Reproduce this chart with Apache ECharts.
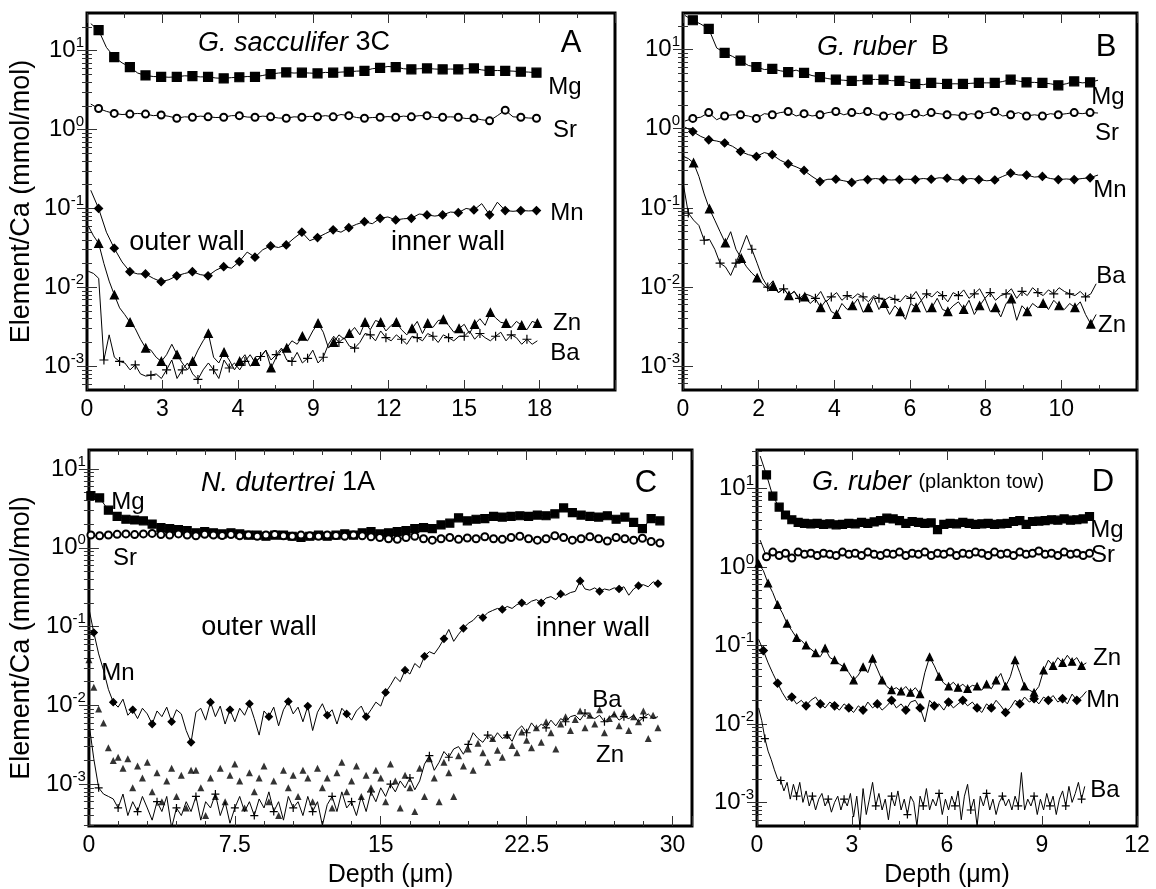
<!DOCTYPE html>
<html>
<head>
<meta charset="utf-8">
<script src="https://cdn.jsdelivr.net/npm/echarts@6/dist/echarts.min.js"></script>
<style>
  html, body { margin: 0; padding: 0; background: #fff; }
  #chart { width: 1156px; height: 889px; }
</style>
</head>
<body>
<div id="chart"></div>
<script>
var FONT = '"Liberation Sans", Arial, Helvetica, sans-serif';

// ---- panel A: G. sacculifer 3C ----
// Mg, Sr, Mn sampled from 0.15 um every 0.311 um; Zn, Ba from 0.05 um every 0.2077 um
var depthA1 = [0.15, 0.311];
var depthA2 = [0.05, 0.2077];
var mgA = [22, 18.2, 11, 8.3, 7, 6.2, 5.2, 4.85, 4.7, 4.66, 4.6, 4.66, 4.8, 4.75, 4.65, 4.66, 4.5, 4.45, 4.55, 4.6,
  4.7, 4.66, 4.85, 5.05, 5.2, 5.3, 5.2, 5.25, 5.2, 5.15, 5.3, 5.25, 5.35, 5.4, 5.5, 5.55, 5.9, 6.05, 6.3, 6.2,
  5.9, 5.8, 5.9, 5.95, 5.85, 5.8, 5.85, 5.8, 5.9, 5.95, 5.7, 5.55, 5.6, 5.55, 5.5, 5.4, 5.35, 5.25];
var srA = [2.1, 1.85, 1.7, 1.6, 1.55, 1.57, 1.6, 1.57, 1.5, 1.53, 1.47, 1.39, 1.45, 1.43, 1.48, 1.45, 1.42, 1.43, 1.5, 1.5,
  1.44, 1.43, 1.48, 1.45, 1.4, 1.39, 1.45, 1.43, 1.47, 1.45, 1.5, 1.45, 1.55, 1.5, 1.42, 1.39, 1.42, 1.43, 1.46, 1.43,
  1.48, 1.45, 1.5, 1.5, 1.42, 1.43, 1.45, 1.43, 1.38, 1.39, 1.33, 1.29, 1.5, 1.76, 1.45, 1.43, 1.4, 1.39];
var mnA = [0.17, 0.1, 0.05, 0.0313, 0.021, 0.0158, 0.0148, 0.0148, 0.013, 0.0118, 0.0125, 0.014, 0.015, 0.0158, 0.0145,
  0.014, 0.0165, 0.0183, 0.0175, 0.0212, 0.028, 0.0241, 0.03, 0.0335, 0.032, 0.0345, 0.042, 0.05, 0.039, 0.0427,
  0.048, 0.0536, 0.05, 0.057, 0.063, 0.068, 0.064, 0.075, 0.078, 0.0715, 0.074, 0.075, 0.085, 0.0828, 0.08, 0.0828,
  0.09, 0.0885, 0.1, 0.0958, 0.115, 0.083, 0.12, 0.094, 0.092, 0.094, 0.093, 0.094];
var znA = [0.06, 0.045, 0.036, 0.02, 0.012, 0.008, 0.0055, 0.0045, 0.0036, 0.003, 0.0022, 0.0017, 0.0016, 0.0013,
  0.00115, 0.0014, 0.0019, 0.0014, 0.0011, 0.0009, 0.00115, 0.0016, 0.0021, 0.0026, 0.0013, 0.0011, 0.0015, 0.0012,
  0.0009, 0.00115, 0.0014, 0.001, 0.00115, 0.0013, 0.0016, 0.00095, 0.0013, 0.0016, 0.0017, 0.0021, 0.0019, 0.0024,
  0.0021, 0.0028, 0.0035, 0.0027, 0.0017, 0.002, 0.0025, 0.0022, 0.0026, 0.0031, 0.0025, 0.0036, 0.0029, 0.0038,
  0.0036, 0.0028, 0.0033, 0.0036, 0.0029, 0.0025, 0.003, 0.0037, 0.0026, 0.0035, 0.0031, 0.0038, 0.0039, 0.0033,
  0.0027, 0.003, 0.0034, 0.0026, 0.0034, 0.004, 0.0033, 0.0048, 0.0041, 0.0036, 0.0035, 0.0031, 0.0037, 0.0033,
  0.0029, 0.0037, 0.0035];
var baA = [0.016, 0.015, 0.013, 0.0012, 0.0025, 0.0013, 0.00115, 0.0011, 0.0009, 0.00104, 0.0008, 0.00075, 0.00077,
  0.0008, 0.0007, 0.0009, 0.0012, 0.0007, 0.0009, 0.0011, 0.0008, 0.00068, 0.0009, 0.0011, 0.0009, 0.0007, 0.0012,
  0.00095, 0.0011, 0.0009, 0.00115, 0.0014, 0.0011, 0.00133, 0.0016, 0.0012, 0.0014, 0.0017, 0.0012, 0.00115, 0.0015,
  0.0011, 0.00126, 0.0016, 0.0011, 0.0013, 0.0019, 0.0024, 0.002, 0.0023, 0.0018, 0.0017, 0.002, 0.0026, 0.0025,
  0.0021, 0.0028, 0.0023, 0.0021, 0.0025, 0.0022, 0.0019, 0.0024, 0.0023, 0.0021, 0.0026, 0.0024, 0.002, 0.0025,
  0.0023, 0.0021, 0.0024, 0.0024, 0.0028, 0.0022, 0.0026, 0.0023, 0.0021, 0.0024, 0.0027, 0.0021, 0.0025, 0.0023,
  0.0019, 0.0022, 0.0019, 0.0021];
var xLabelsA = ['0', '3', '4', '9', '12', '15', '18', ''];

// ---- panel B: G. ruber B ----
var depthB1 = [0.05, 0.21];
var depthB2 = [0, 0.14];
var mgB = [27, 23.5, 21, 18.3, 10.5, 9.1, 8.2, 7.25, 6.3, 6.03, 5.6, 5.7, 5.4, 5.2, 5.5, 5.07, 4.7, 4.5, 4.3, 4.17,
  4.1, 4.02, 4.05, 4.17, 4.2, 4.17, 4.05, 4.02, 3.9, 3.68, 3.6, 3.79, 3.75, 3.68, 3.7, 3.68, 3.75, 3.79, 3.8, 3.79,
  3.95, 4.17, 4.0, 3.86, 3.85, 3.79, 3.7, 3.54, 3.7, 3.97, 3.8, 3.86, 4.1];
var srB = [1.25, 1.35, 1.4, 1.6, 1.3, 1.45, 1.5, 1.5, 1.45, 1.35, 1.55, 1.5, 1.6, 1.65, 1.45, 1.55, 1.45, 1.5, 1.6, 1.65,
  1.5, 1.6, 1.55, 1.65, 1.5, 1.45, 1.55, 1.45, 1.5, 1.55, 1.45, 1.6, 1.55, 1.5, 1.5, 1.45, 1.55, 1.5, 1.6, 1.65,
  1.45, 1.5, 1.6, 1.45, 1.5, 1.45, 1.55, 1.5, 1.55, 1.6, 1.55, 1.6, 1.58];
var mnB = [1.05, 0.92, 0.8, 0.725, 0.7, 0.66, 0.6, 0.516, 0.47, 0.446, 0.5, 0.47, 0.4, 0.36, 0.33, 0.297, 0.25, 0.215,
  0.23, 0.23, 0.22, 0.21, 0.225, 0.228, 0.235, 0.228, 0.225, 0.228, 0.23, 0.228, 0.235, 0.23, 0.24, 0.237, 0.225,
  0.228, 0.235, 0.228, 0.22, 0.225, 0.25, 0.275, 0.26, 0.26, 0.245, 0.25, 0.235, 0.228, 0.232, 0.228, 0.235, 0.24, 0.26];
var znB = [0.45, 0.42, 0.37, 0.25, 0.15, 0.097, 0.07, 0.05, 0.036, 0.05, 0.03, 0.023, 0.018, 0.015, 0.013, 0.011,
  0.0095, 0.0102, 0.0085, 0.0095, 0.0078, 0.0088, 0.0068, 0.0075, 0.0062, 0.0071, 0.0055, 0.0068, 0.0049, 0.0045,
  0.0062, 0.0052, 0.0058, 0.0071, 0.0048, 0.0055, 0.0075, 0.0052, 0.0062, 0.0045, 0.0058, 0.0049, 0.0039, 0.0062,
  0.0055, 0.0068, 0.0048, 0.0055, 0.0072, 0.0052, 0.0049, 0.0058, 0.0065, 0.0052, 0.0068, 0.0045, 0.0058, 0.0072,
  0.0049, 0.0055, 0.0042, 0.0062, 0.0071, 0.0038, 0.0058, 0.0049, 0.0062, 0.0055, 0.0062, 0.0052, 0.0068, 0.0058,
  0.0052, 0.0062, 0.0055, 0.0065, 0.0045, 0.0034, 0.0045];
var baB = [0.21, 0.086, 0.07, 0.06, 0.039, 0.04, 0.03, 0.02, 0.018, 0.014, 0.02, 0.03, 0.045, 0.03, 0.02, 0.013,
  0.01, 0.012, 0.0085, 0.0095, 0.0078, 0.0088, 0.0072, 0.0082, 0.0078, 0.0072, 0.0088, 0.0065, 0.0075, 0.0085,
  0.0068, 0.0078, 0.0072, 0.0082, 0.0075, 0.0065, 0.0078, 0.0072, 0.0068, 0.0075, 0.007, 0.0065, 0.0078, 0.0072,
  0.0088, 0.0068, 0.0082, 0.0075, 0.0088, 0.0078, 0.0065, 0.0085, 0.0078, 0.0092, 0.0072, 0.0082, 0.0095, 0.0072,
  0.0085, 0.0068, 0.0078, 0.0082, 0.0095, 0.0072, 0.0088, 0.0078, 0.0098, 0.0085, 0.0078, 0.0092, 0.0082, 0.0098,
  0.0088, 0.0082, 0.0078, 0.0088, 0.0075, 0.0082, 0.011];

// ---- panel C: N. dutertrei 1A ----
var depthC1 = [0.1, 0.45];
var depthC2 = [0, 0.25];
var mgC = [4.6, 4.3, 3.0, 2.5, 2.3, 2.25, 2.2, 2.0, 1.8, 1.75, 1.7, 1.65, 1.55, 1.6, 1.55, 1.5, 1.55, 1.5, 1.45, 1.45,
  1.4, 1.45, 1.45, 1.4, 1.35, 1.4, 1.45, 1.4, 1.45, 1.5, 1.45, 1.55, 1.6, 1.5, 1.55, 1.6, 1.65, 1.75, 1.8, 1.75,
  1.95, 2.05, 2.4, 2.2, 2.3, 2.35, 2.5, 2.45, 2.5, 2.55, 2.5, 2.6, 2.55, 2.7, 3.2, 2.8, 2.6, 2.5, 2.45, 2.55,
  2.3, 2.45, 2.1, 1.75, 2.35, 2.2];
var srC = [1.45, 1.42, 1.45, 1.48, 1.5, 1.47, 1.5, 1.52, 1.47, 1.45, 1.5, 1.45, 1.42, 1.48, 1.45, 1.43, 1.47, 1.42,
  1.45, 1.4, 1.45, 1.47, 1.42, 1.4, 1.45, 1.42, 1.4, 1.45, 1.43, 1.4, 1.45, 1.42, 1.38, 1.35, 1.3, 1.28, 1.35, 1.4,
  1.3, 1.25, 1.3, 1.35, 1.28, 1.33, 1.3, 1.38, 1.3, 1.28, 1.35, 1.4, 1.3, 1.25, 1.3, 1.42, 1.35, 1.25, 1.3, 1.38,
  1.3, 1.22, 1.35, 1.3, 1.25, 1.32, 1.2, 1.15];
var mnC = [0.17, 0.084, 0.045, 0.028, 0.016, 0.011, 0.0095, 0.012, 0.0075, 0.0088, 0.0068, 0.0092, 0.0078, 0.0058,
  0.0085, 0.0072, 0.0095, 0.0062, 0.0088, 0.0078, 0.0048, 0.0034, 0.0082, 0.0092, 0.0065, 0.011, 0.0072, 0.0098,
  0.0058, 0.0088, 0.0062, 0.0092, 0.0075, 0.0105, 0.0068, 0.0042, 0.0085, 0.0072, 0.0095, 0.0055, 0.0088, 0.0112,
  0.0078, 0.0095, 0.0062, 0.0098, 0.0048, 0.0082, 0.0105, 0.0075, 0.0088, 0.0058, 0.0092, 0.0078, 0.0065, 0.0085,
  0.0098, 0.0072, 0.0088, 0.011, 0.0098, 0.0146, 0.018, 0.023, 0.02, 0.028, 0.025, 0.034, 0.03, 0.042, 0.048, 0.045,
  0.055, 0.07, 0.092, 0.065, 0.08, 0.095, 0.11, 0.12, 0.14, 0.13, 0.15, 0.16, 0.17, 0.165, 0.18, 0.17, 0.19, 0.2,
  0.19, 0.21, 0.22, 0.2, 0.23, 0.24, 0.22, 0.26, 0.25, 0.27, 0.28, 0.38, 0.3, 0.29, 0.31, 0.28, 0.3, 0.29, 0.31, 0.3,
  0.32, 0.25, 0.3, 0.33, 0.34, 0.32, 0.37, 0.35];
var baC = [0.006, 0.0021, 0.0009, 0.00075, 0.0007, 0.00065, 0.0005, 0.00075, 0.0004, 0.0006, 0.00045, 0.0007, 0.0005,
  0.00035, 0.0006, 0.00045, 0.0007, 0.00028, 0.0005, 0.0004, 0.0006, 0.00045, 0.0007, 0.00035, 0.0006, 0.0005,
  0.00075, 0.0004, 0.0006, 0.00032, 0.0005, 0.0007, 0.00045, 0.0006, 0.0004, 0.00065, 0.0005, 0.0008, 0.00045, 0.0006,
  0.00035, 0.0007, 0.0005, 0.0006, 0.0004, 0.0007, 0.00045, 0.0006, 0.0003, 0.00055, 0.0007, 0.00045, 0.0008, 0.0005,
  0.0006, 0.0004, 0.0007, 0.00045, 0.0008, 0.0006, 0.0009, 0.0007, 0.001, 0.0008, 0.0011, 0.0009, 0.0012, 0.00085,
  0.0011, 0.0018, 0.0023, 0.0015, 0.0019, 0.0026, 0.0022, 0.0028, 0.003, 0.0024, 0.0032, 0.0045, 0.0038, 0.0034,
  0.0042, 0.0036, 0.0045, 0.0038, 0.0042, 0.0035, 0.0048, 0.0055, 0.0045, 0.006, 0.005, 0.0058, 0.0052, 0.0065,
  0.0055, 0.0068, 0.0062, 0.0072, 0.0075, 0.0065, 0.008, 0.0072, 0.0068, 0.0075, 0.0062, 0.007, 0.0078, 0.0065,
  0.0072, 0.0068, 0.0075, 0.0062, 0.007, 0.0078, 0.0068, 0.0072];
var znC = [0.038, 0.017, 0.009, 0.006, 0.0029, 0.002, 0.0022, 0.0016, 0.0021, 0.0009, 0.0017, 0.0012, 0.0019, 0.0008,
  0.0014, 0.0006, 0.0011, 0.0016, 0.0007, 0.0013, 0.0005, 0.0015, 0.0015, 0.0009, 0.0004, 0.0012, 0.0007, 0.0016,
  0.0006, 0.0013, 0.0018, 0.0011, 0.0005, 0.0014, 0.0008, 0.0012, 0.0017, 0.0006, 0.0011, 0.0004, 0.0015, 0.0009,
  0.0013, 0.0007, 0.0015, 0.0012, 0.0006, 0.0016, 0.0009, 0.0012, 0.0005, 0.0014, 0.0019, 0.0008, 0.0011, 0.0017,
  0.0007, 0.0013, 0.0009, 0.0015, 0.0012, 0.0006, 0.0018, 0.0011, 0.0005, 0.0013, 0.0009, 0.00045, 0.0016, 0.0007,
  0.0021, 0.0012, 0.0006, 0.0019, 0.0014, 0.0007, 0.0023, 0.0017, 0.0028, 0.0015, 0.0033, 0.0025, 0.0019, 0.0038,
  0.0027, 0.0022, 0.0042, 0.0031, 0.0025, 0.0046, 0.0036, 0.0029, 0.0052, 0.0034, 0.0062, 0.0045, 0.0028, 0.0058,
  0.0072, 0.0048, 0.0066, 0.0085, 0.0052, 0.0075, 0.0058, 0.0088, 0.0045, 0.0068, 0.0078, 0.0055, 0.0082, 0.0048,
  0.0072, 0.0062, 0.0085, 0.0038, 0.0075, 0.0052];

// ---- panel D: G. ruber (plankton tow) ----
var depthD1 = [0.1, 0.2];
var depthD2 = [0.05, 0.15];
var depthD3 = [0.05, 0.1];
var mgD = [26, 14.9, 8, 5.8, 4.6, 4.0, 3.7, 3.6, 3.55, 3.6, 3.5, 3.55, 3.45, 3.5, 3.6, 3.55, 3.7, 3.6, 3.75, 3.9,
  4.2, 4.1, 3.9, 3.6, 3.8, 3.7, 3.6, 3.65, 3.0, 3.5, 3.6, 3.55, 3.7, 3.6, 3.5, 3.55, 3.6, 3.5, 3.55, 3.6,
  3.8, 3.9, 3.5, 3.8, 3.85, 3.9, 4.0, 3.95, 4.1, 3.95, 4.0, 4.1, 4.4];
var srD = [2.2, 1.35, 1.55, 1.4, 1.5, 1.3, 1.55, 1.45, 1.5, 1.4, 1.5, 1.45, 1.4, 1.55, 1.45, 1.5, 1.4, 1.55, 1.45, 1.4,
  1.5, 1.45, 1.55, 1.4, 1.5, 1.45, 1.55, 1.4, 1.5, 1.45, 1.55, 1.4, 1.5, 1.45, 1.55, 1.5, 1.4, 1.55, 1.45, 1.5,
  1.4, 1.55, 1.45, 1.5, 1.6, 1.45, 1.5, 1.4, 1.55, 1.45, 1.5, 1.4, 1.5];
var znD = [1.1, 0.9, 0.62, 0.47, 0.33, 0.26, 0.19, 0.155, 0.125, 0.116, 0.1, 0.09, 0.08, 0.072, 0.092, 0.07, 0.065,
  0.058, 0.053, 0.045, 0.036, 0.042, 0.053, 0.045, 0.068, 0.05, 0.036, 0.03, 0.027, 0.029, 0.026, 0.03, 0.025, 0.029,
  0.024, 0.045, 0.071, 0.055, 0.04, 0.033, 0.03, 0.034, 0.029, 0.032, 0.028, 0.031, 0.03, 0.027, 0.032, 0.028, 0.036,
  0.044, 0.03, 0.04, 0.065, 0.045, 0.03, 0.027, 0.025, 0.03, 0.048, 0.065, 0.055, 0.07, 0.06, 0.075, 0.062, 0.07,
  0.055, 0.06];
var mnD = [0.12, 0.086, 0.06, 0.044, 0.033, 0.025, 0.02, 0.022, 0.018, 0.02, 0.017, 0.02, 0.022, 0.018, 0.016, 0.019,
  0.017, 0.015, 0.018, 0.016, 0.014, 0.017, 0.015, 0.019, 0.016, 0.018, 0.015, 0.017, 0.02, 0.016, 0.018, 0.015,
  0.019, 0.02, 0.016, 0.0106, 0.02, 0.017, 0.018, 0.015, 0.019, 0.016, 0.018, 0.02, 0.017, 0.019, 0.016, 0.014, 0.018,
  0.016, 0.02, 0.017, 0.014, 0.016, 0.02, 0.018, 0.022, 0.019, 0.021, 0.018, 0.022, 0.02, 0.023, 0.019, 0.021,
  0.018, 0.024, 0.02, 0.022, 0.026];
var baD = [0.016, 0.011, 0.0065, 0.0045, 0.0035, 0.0026, 0.002, 0.0019, 0.0014, 0.0018, 0.0011, 0.0017, 0.0012,
  0.0018, 0.001, 0.0014, 0.0009, 0.0012, 0.0008, 0.0011, 0.0013, 0.0009, 0.0011, 0.00075, 0.001, 0.0012, 0.0008,
  0.0011, 0.0009, 0.0013, 0.00065, 0.0012, 0.0005, 0.0015, 0.0007, 0.0011, 0.0018, 0.0009, 0.0013, 0.0008, 0.0011,
  0.0006, 0.0012, 0.0009, 0.0014, 0.0008, 0.0011, 0.0007, 0.0012, 0.001, 0.0005, 0.0012, 0.0009, 0.0015, 0.0008,
  0.0011, 0.0009, 0.0013, 0.0007, 0.0011, 0.0008, 0.0012, 0.0009, 0.0014, 0.0006, 0.0012, 0.0017, 0.0008, 0.0011,
  0.0005, 0.0012, 0.0009, 0.0013, 0.0008, 0.0011, 0.0007, 0.001, 0.0012, 0.0009, 0.0011, 0.0008, 0.0012, 0.0009,
  0.0024, 0.0008, 0.0011, 0.0009, 0.0012, 0.0007, 0.0011, 0.0008, 0.0013, 0.0009, 0.0012, 0.0007, 0.0011, 0.0014,
  0.0009, 0.0016, 0.001, 0.0013, 0.0018, 0.0011, 0.0016];

var yMajor = [1e-3, 1e-2, 1e-1, 1, 10];
var PLUS = 'path://M5,0V10M0,5H10';

function withDepth(depth, vals) {
  return vals.map(function (v, i) {
    return [Math.round((depth[0] + depth[1] * i) * 1000) / 1000, v];
  });
}

function supLabel(v) {
  return '{b|10}{s|' + Math.round(Math.log(v) / Math.LN10) + '}';
}

var panels = [
  { left: 87, top: 13, width: 528, height: 377, xMax: 21, xMajor: 3, xMinor: 1.5, yMin: 5e-4, yMax: 30,
    yName: true, xName: false,
    xFmt: function (v) { return xLabelsA[Math.round(v / 3)] || ''; } },
  { left: 683, top: 13, width: 454, height: 377, xMax: 12, xMajor: 2, xMinor: 1, yMin: 5e-4, yMax: 29,
    yName: false, xName: false,
    xFmt: function (v) { return v > 10 ? '' : String(v); } },
  { left: 87, top: 450, width: 605, height: 377, xMax: 31, xMajor: 7.5, xMinor: 1.5, yMin: 2.95e-4, yMax: 17.4,
    yName: true, xName: true,
    xFmt: function (v) { return v > 30 ? '' : String(v); } },
  { left: 757, top: 450, width: 380, height: 377, xMax: 12, xMajor: 3, xMinor: 1.5, yMin: 5e-4, yMax: 31,
    yName: false, xName: true,
    xFmt: function (v) { return String(v); } }
];

var grids = [], xAxes = [], yAxes = [];
var tickStyle = { color: '#333', width: 1 };

panels.forEach(function (p, g) {
  grids.push({ left: p.left, top: p.top, width: p.width, height: p.height, show: true,
    borderColor: '#000', borderWidth: 3, backgroundColor: 'transparent' });

  var minors = [];
  for (var e = -4; e <= 1; e++) {
    for (var m = 2; m <= 9; m++) {
      var mv = m * Math.pow(10, e);
      if (mv > p.yMin && mv < p.yMax) minors.push(mv);
    }
  }

  ['bottom', 'top'].forEach(function (pos) {
    xAxes.push({
      gridIndex: g, type: 'value', position: pos, min: 0, max: p.xMax, interval: p.xMajor,
      axisLine: { show: false }, splitLine: { show: false },
      axisTick: { show: true, inside: true, length: 10, lineStyle: tickStyle },
      axisLabel: { show: pos === 'bottom', formatter: p.xFmt, fontSize: 23, fontFamily: FONT, color: '#000', margin: 8 },
      name: (pos === 'bottom' && p.xName) ? 'Depth (\u03bcm)' : '',
      nameLocation: 'middle', nameGap: 37,
      nameTextStyle: { fontSize: 25, fontFamily: FONT, color: '#000' }
    });
    xAxes.push({
      gridIndex: g, type: 'value', position: pos, min: 0, max: p.xMax, interval: p.xMinor,
      axisLine: { show: false }, splitLine: { show: false },
      axisTick: { show: true, inside: true, length: 5, lineStyle: tickStyle },
      axisLabel: { show: false }
    });
  });

  ['left', 'right'].forEach(function (pos) {
    yAxes.push({
      gridIndex: g, type: 'log', logBase: 10, position: pos, min: p.yMin, max: p.yMax,
      axisLine: { show: false }, splitLine: { show: false },
      axisTick: { show: true, inside: true, length: 10, customValues: yMajor, lineStyle: tickStyle },
      axisLabel: {
        show: pos === 'left', customValues: yMajor, formatter: supLabel, margin: 3,
        rich: {
          b: { fontSize: 24, fontFamily: FONT, color: '#000', lineHeight: 30 },
          s: { fontSize: 15, fontFamily: FONT, color: '#000', lineHeight: 15, verticalAlign: 'top' }
        }
      },
      name: (pos === 'left' && p.yName) ? 'Element/Ca (mmol/mol)' : '',
      nameLocation: 'middle', nameGap: 52,
      nameTextStyle: { fontSize: 27, fontFamily: FONT, color: '#000' }
    });
    yAxes.push({
      gridIndex: g, type: 'log', logBase: 10, position: pos, min: p.yMin, max: p.yMax,
      axisLine: { show: false }, splitLine: { show: false },
      axisTick: { show: true, inside: true, length: 5, customValues: minors, lineStyle: tickStyle },
      axisLabel: { show: false }
    });
  });
});

// a profile line; a marker is drawn on every `every`-th sample starting at `first`
function profile(g, depth, vals, symbol, size, every, first) {
  return {
    type: 'line', xAxisIndex: g * 4, yAxisIndex: g * 4,
    data: withDepth(depth, vals),
    symbol: symbol, showSymbol: true, showAllSymbol: true,
    symbolSize: function (v, params) {
      var i = params.dataIndex - first;
      return (i >= 0 && i % every === 0) ? size : 0;
    },
    lineStyle: { color: '#000', width: 1 },
    itemStyle: { color: '#000', borderColor: '#000', borderWidth: 1.2 },
    emphasis: { disabled: true }, silent: true, animation: false
  };
}

var series = [
  profile(0, depthA1, mgA, 'rect', 9, 2, 1),
  profile(0, depthA1, srA, 'emptyCircle', 7, 2, 1),
  profile(0, depthA1, mnA, 'diamond', 8, 2, 1),
  profile(0, depthA2, znA, 'triangle', 8, 3, 2),
  profile(0, depthA2, baA, PLUS, 9, 3, 3),

  profile(1, depthB1, mgB, 'rect', 9, 2, 1),
  profile(1, depthB1, srB, 'emptyCircle', 7, 2, 1),
  profile(1, depthB1, mnB, 'diamond', 8, 2, 1),
  profile(1, depthB2, znB, 'triangle', 8, 3, 2),
  profile(1, depthB2, baB, PLUS, 9, 3, 1),

  profile(2, depthC1, mgC, 'rect', 8, 1, 0),
  profile(2, depthC1, srC, 'emptyCircle', 7, 1, 0),
  profile(2, depthC2, mnC, 'diamond', 7, 4, 1),
  profile(2, depthC2, baC, PLUS, 8, 4, 2),
  {
    type: 'scatter', xAxisIndex: 8, yAxisIndex: 8, data: withDepth(depthC2, znC),
    symbol: 'triangle', symbolSize: 7, itemStyle: { color: '#000' }, silent: true, animation: false
  },

  profile(3, depthD1, mgD, 'rect', 8, 1, 1),
  profile(3, depthD1, srD, 'emptyCircle', 7, 1, 1),
  profile(3, depthD2, znD, 'triangle', 7, 2, 0),
  profile(3, depthD2, mnD, 'diamond', 8, 3, 1),
  profile(3, depthD3, baD, PLUS, 8, 5, 2)
];

function txt(x, y, text, size, rich) {
  return {
    type: 'text', x: x, y: y, silent: true, z: 100,
    style: { text: text, fill: '#000', fontSize: size, fontFamily: FONT,
      align: 'center', verticalAlign: 'middle', rich: rich || {} }
  };
}
var ital = { i: { fontStyle: 'italic', fontSize: 27, fontFamily: FONT, fill: '#000' },
  s: { fontSize: 20, fontFamily: FONT, fill: '#000' } };

var graphics = [
  txt(294, 43, '{i|G. sacculifer} 3C', 27, ital),
  txt(571, 43, 'A', 31),
  txt(565, 87, 'Mg', 24), txt(565, 130, 'Sr', 24), txt(567, 213, 'Mn', 24),
  txt(567, 323, 'Zn', 24), txt(565, 353, 'Ba', 24),
  txt(187, 243, 'outer wall', 27), txt(448, 243, 'inner wall', 27),

  txt(883, 47, '{i|G. ruber}  B', 27, ital),
  txt(1106, 47, 'B', 31),
  txt(1108, 97, 'Mg', 24), txt(1107, 133, 'Sr', 24), txt(1110, 190, 'Mn', 24),
  txt(1111, 276, 'Ba', 24), txt(1112, 325, 'Zn', 24),

  txt(288, 483, '{i|N. dutertrei} 1A', 27, ital),
  txt(646, 483, 'C', 31),
  txt(128, 502, 'Mg', 24), txt(125, 558, 'Sr', 24), txt(118, 673, 'Mn', 24),
  txt(607, 700, 'Ba', 24), txt(610, 755, 'Zn', 24),
  txt(259, 628, 'outer wall', 27), txt(593, 629, 'inner wall', 27),

  txt(928, 482, '{i|G. ruber} {s|(plankton tow)}', 27, ital),
  txt(1103, 482, 'D', 31),
  txt(1107, 530, 'Mg', 24), txt(1103, 555, 'Sr', 24), txt(1107, 658, 'Zn', 24),
  txt(1103, 700, 'Mn', 24), txt(1105, 790, 'Ba', 24)
];

var chart = echarts.init(document.getElementById('chart'), null, { renderer: 'canvas' });
chart.setOption({
  backgroundColor: '#fff',
  animation: false,
  grid: grids,
  xAxis: xAxes,
  yAxis: yAxes,
  series: series,
  graphic: graphics
});
</script>
</body>
</html>
